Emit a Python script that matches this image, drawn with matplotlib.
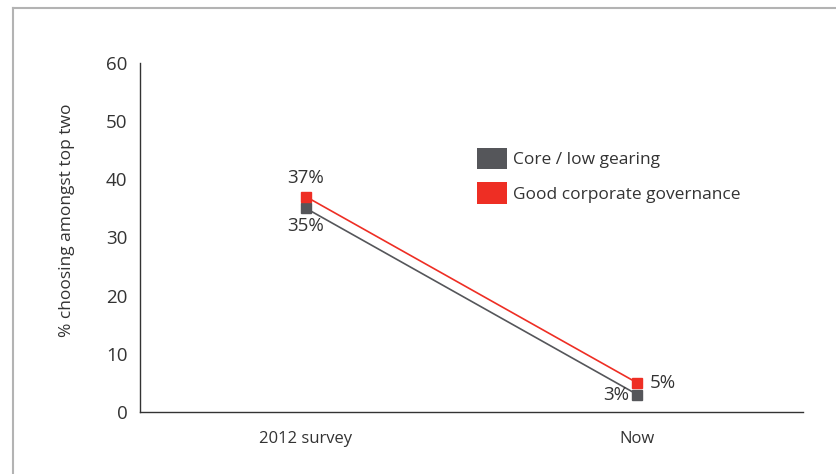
import matplotlib.pyplot as plt
from matplotlib.lines import Line2D
from matplotlib.patches import Patch

periods = ['2012 survey', 'Now']
core_low_gearing = [35, 3]
good_governance = [37, 5]
series_names = ['Core / low gearing', 'Good corporate governance']

grey = '#55565a'
red = '#ee2e24'
text_col = '#333333'

plt.rcParams['font.family'] = ['Open Sans', 'DejaVu Sans']
plt.rcParams['font.size'] = 12

fig = plt.figure(figsize=(8.36, 4.74), dpi=100)
ax = fig.add_axes([0.1675, 0.1308, 0.793, 0.737])

x = list(range(len(periods)))
ax.plot(x, core_low_gearing, color=grey, lw=1.2, marker='s', ms=6.5, mec=grey, mfc=grey)
ax.plot(x, good_governance, color=red, lw=1.2, marker='s', ms=6.5, mec=red, mfc=red)

# value labels
lab = dict(textcoords='offset points', color=text_col, fontsize=13.5)
ax.annotate(f'{good_governance[0]}%', (x[0], good_governance[0]), xytext=(0, 7),
            ha='center', va='bottom', **lab)
ax.annotate(f'{core_low_gearing[0]}%', (x[0], core_low_gearing[0]), xytext=(0, -6),
            ha='center', va='top', **lab)
ax.annotate(f'{good_governance[1]}%', (x[1], good_governance[1]), xytext=(9, 0),
            ha='left', va='center', **lab)
ax.annotate(f'{core_low_gearing[1]}%', (x[1], core_low_gearing[1]), xytext=(-6, 0),
            ha='right', va='center', **lab)

ax.set_xlim(-0.5, 1.5)
ax.set_ylim(0, 60)
ax.set_yticks(range(0, 61, 10))
ax.set_xticks(x)
ax.set_xticklabels(periods)
ax.tick_params(axis='both', length=0, colors=text_col, labelsize=12)
ax.tick_params(axis='y', pad=9, labelsize=13.5)
ax.tick_params(axis='x', pad=14)
ax.set_ylabel('% choosing amongst top two', color=text_col, fontsize=12.5,
              labelpad=22, y=0.55)

for side in ['top', 'right']:
    ax.spines[side].set_visible(False)
for side in ['left', 'bottom']:
    ax.spines[side].set_color('#333333')
    ax.spines[side].set_linewidth(1.0)

handles = [Patch(facecolor=grey, edgecolor='none'), Patch(facecolor=red, edgecolor='none')]
ax.legend(handles, series_names, loc='upper left', bbox_to_anchor=(0.484, 0.80),
          frameon=False, handlelength=1.75, handleheight=1.5, handletextpad=0.35,
          labelspacing=0.75, fontsize=12.5, labelcolor=text_col)

# outer frame (top and left edges only)
frame_col = '#b3b3b3'
fig.add_artist(Line2D([13 / 836, 1], [1 - 8 / 474] * 2, color=frame_col, lw=1.5))
fig.add_artist(Line2D([13 / 836] * 2, [0, 1 - 8 / 474], color=frame_col, lw=1.5))

fig.savefig('out.png', dpi=100)
